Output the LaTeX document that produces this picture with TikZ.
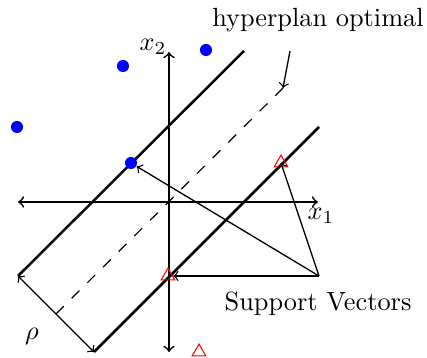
\documentclass[tikz,border=0pt]{standalone}
\usetikzlibrary{shapes.geometric}
\begin{document}
\begin{tikzpicture}[x=0.38pt,y=-0.38pt,
  axis/.style={line width=0.65pt,<->},
  margin/.style={line width=0.95pt},
  thinarrow/.style={line width=0.5pt,->},
  dot/.style={circle,fill=blue,inner sep=0pt,minimum size=4.6pt},
  tri/.style={regular polygon,regular polygon sides=3,draw=red,line width=0.4pt,inner sep=0pt,minimum size=6pt},
  lab/.style={inner sep=0pt}]
\useasboundingbox (0,0) rectangle (427,358);
% axes
\coordinate (xl) at (18,202);
\coordinate (xr) at (318,202);
\coordinate (yt) at (169,52);
\coordinate (yb) at (169,352);
\draw[axis] (xl) -- (xr);
\draw[axis] (yb) -- (yt);
\node[lab] (x1) at (321,216) {$x_1$};
\node[lab] (x2) at (153,47) {$x_2$};
% margin lines
\coordinate (ua) at (18,276);
\coordinate (ub) at (244,51);
\coordinate (la) at (94,352);
\coordinate (lb) at (319,127);
\coordinate (da) at (56,314);
\coordinate (db) at (283,88);
\draw[margin] (ua) -- (ub);
\draw[margin] (la) -- (lb);
\draw[line width=0.45pt,dash pattern=on 4.2pt off 4.2pt] (da) -- (db);
\draw[line width=0.5pt,<->] (ua) -- (la);
\node[lab] (rho) at (32,336) {$\rho$};
% points
\node[dot] (b1) at (17,127) {};
\node[dot] (b2) at (123,66) {};
\node[dot] (b3) at (206,50) {};
\node[dot] (b4) at (131,163) {};
\node[tri] (t1) at (281,163) {};
\node[tri] (t2) at (168,276) {};
\node[tri] (t3) at (199,352) {};
% labels and arrows
\node[lab] (hyp) at (318,20) {hyperplan optimal};
\coordinate (hs) at (290,51);
\draw[thinarrow] (hs) -- (db);
\node[lab] (sv) at (318,304) {Support Vectors};
\coordinate (svp) at (319,276);
\draw[thinarrow] (svp) -- (b4);
\draw[thinarrow] (svp) -- (t1.center);
\draw[thinarrow] (svp) -- (t2.east);
\end{tikzpicture}
\end{document}
